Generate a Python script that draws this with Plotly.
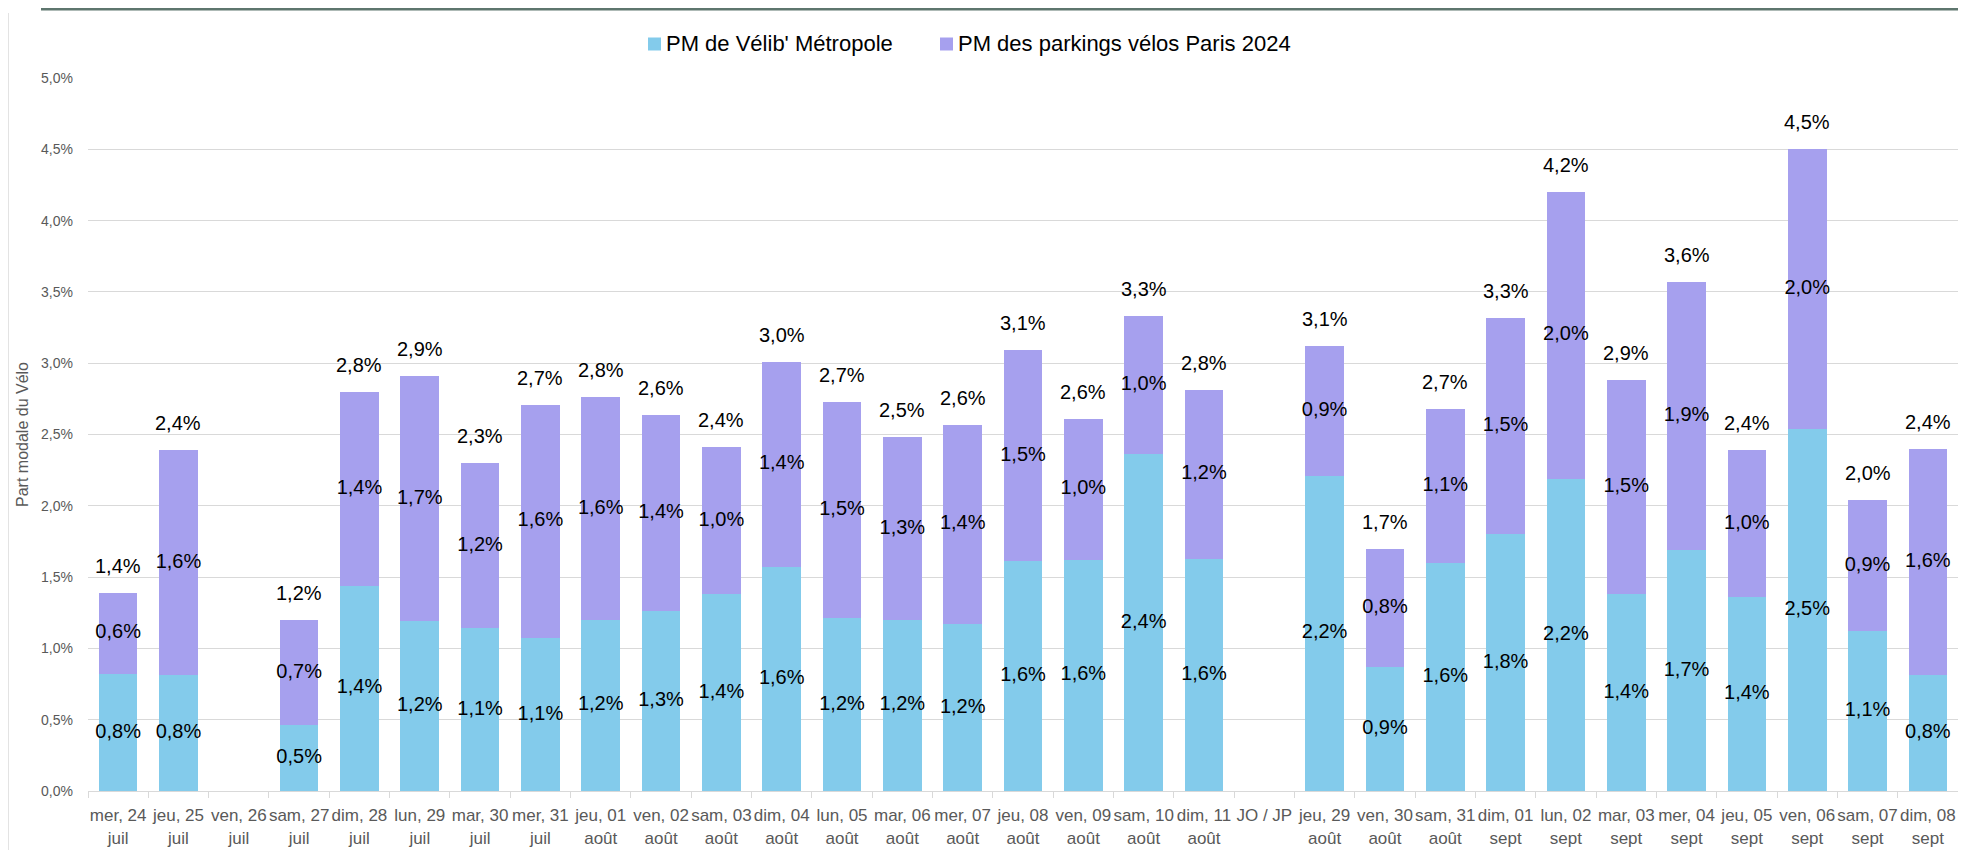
import plotly.graph_objects as go

categories = [
    "mer, 24<br>juil", "jeu, 25<br>juil", "ven, 26<br>juil", "sam, 27<br>juil",
    "dim, 28<br>juil", "lun, 29<br>juil", "mar, 30<br>juil", "mer, 31<br>juil",
    "jeu, 01<br>août", "ven, 02<br>août", "sam, 03<br>août", "dim, 04<br>août",
    "lun, 05<br>août", "mar, 06<br>août", "mer, 07<br>août", "jeu, 08<br>août",
    "ven, 09<br>août", "sam, 10<br>août", "dim, 11<br>août", "JO / JP",
    "jeu, 29<br>août", "ven, 30<br>août", "sam, 31<br>août", "dim, 01<br>sept",
    "lun, 02<br>sept", "mar, 03<br>sept", "mer, 04<br>sept", "jeu, 05<br>sept",
    "ven, 06<br>sept", "sam, 07<br>sept", "dim, 08<br>sept",
]

velib = [0.82, 0.81, None, 0.46, 1.44, 1.19, 1.14, 1.07, 1.20, 1.26, 1.38, 1.57,
         1.21, 1.20, 1.17, 1.61, 1.62, 2.36, 1.63, None, 2.21, 0.87, 1.60, 1.80,
         2.19, 1.38, 1.69, 1.36, 2.54, 1.12, 0.81]

parkings = [0.57, 1.58, None, 0.74, 1.36, 1.72, 1.16, 1.64, 1.56, 1.38, 1.03, 1.44,
            1.52, 1.28, 1.40, 1.48, 0.99, 0.97, 1.18, None, 0.91, 0.83, 1.08, 1.52,
            2.01, 1.50, 1.88, 1.03, 1.96, 0.92, 1.59]

y_ticks = [0, 0.5, 1, 1.5, 2, 2.5, 3, 3.5, 4, 4.5, 5]
y_tick_labels = ["0,0%", "0,5%", "1,0%", "1,5%", "2,0%", "2,5%", "3,0%", "3,5%",
                 "4,0%", "4,5%", "5,0%"]

series_names = ["PM de Vélib' Métropole", "PM des parkings vélos Paris 2024"]


def fmt(v):
    return ("%.1f" % v).replace(".", ",") + "%"


totals = [None if a is None else a + b for a, b in zip(velib, parkings)]

BLUE = "#83CBEB"
PURPLE = "#A6A0EE"
FAM = "Liberation Sans, Arial, sans-serif"
LABEL_FONT = dict(family=FAM, size=20, color="#000000")

# figure is placed at an 8px page offset (default body margin)
W, H = 1950, 842
ML, MR, MT, MB = 80, 0, 70, 59
PW = W - ML - MR
PH = H - MT - MB


def px(x):
    return (x - ML) / PW


def py(y):
    return 1 + (MT - y) / PH


fig = go.Figure()
fig.add_trace(go.Bar(x=categories, y=velib, name=series_names[0], showlegend=False,
                     marker=dict(color=BLUE, line=dict(width=0)), hoverinfo="skip"))
fig.add_trace(go.Bar(x=categories, y=parkings, name=series_names[1], showlegend=False,
                     marker=dict(color=PURPLE, line=dict(width=0)), hoverinfo="skip"))

# segment labels (centred in each segment)
xs, ys, ts = [], [], []
for c, a, b in zip(categories, velib, parkings):
    if a is None:
        continue
    xs += [c, c]
    ys += [a / 2, a + b / 2]
    ts += [fmt(a), fmt(b)]
fig.add_trace(go.Scatter(x=xs, y=ys, text=ts, mode="text", textposition="middle center",
                         textfont=LABEL_FONT, showlegend=False, hoverinfo="skip",
                         cliponaxis=False))

# total labels above bars
for c, t in zip(categories, totals):
    if t is None:
        continue
    fig.add_annotation(x=c, y=t, text=fmt(t), showarrow=False, yanchor="bottom",
                       yshift=14, font=LABEL_FONT)

# legend (drawn manually for Excel-like spacing)
legend_x = [640, 932]
legend_y = 36
for lx, name, col in zip(legend_x, series_names, [BLUE, PURPLE]):
    fig.add_shape(type="rect", xref="paper", yref="paper",
                  x0=px(lx), x1=px(lx + 13), y0=py(legend_y + 6.5), y1=py(legend_y - 6.5),
                  fillcolor=col, line=dict(width=0))
    fig.add_annotation(xref="paper", yref="paper", x=px(lx + 16), y=py(legend_y),
                       xanchor="left", yanchor="middle", showarrow=False, text=name,
                       font=dict(family=FAM, size=22, color="#000000"))

fig.update_layout(
    width=W, height=H,
    margin=dict(l=ML, r=MR, t=MT, b=MB, autoexpand=False),
    barmode="stack", bargap=0.36,
    plot_bgcolor="white", paper_bgcolor="white",
    font=dict(family=FAM, color="#595959"),
    showlegend=False,
)
fig.add_shape(type="line", xref="paper", yref="paper", x0=px(33), x1=1.01,
              y0=py(1), y1=py(1), line=dict(color="#5E766E", width=3))
fig.add_shape(type="line", xref="paper", yref="paper", x0=px(0.5), x1=px(0.5),
              y0=py(H), y1=py(5), line=dict(color="#E3E3E3", width=1))

fig.update_xaxes(type="category", categoryorder="array", categoryarray=categories,
                 range=[-0.5, len(categories) - 0.5], autorange=False,
                 automargin=False, tickangle=0,
                 showline=True, linecolor="#D9D9D9", linewidth=1,
                 ticks="outside", tickson="boundaries", ticklen=6, tickcolor="#D9D9D9",
                 ticklabelstandoff=9,
                 tickfont=dict(family=FAM, size=17, color="#595959"),
                 showgrid=False, fixedrange=True)

fig.update_yaxes(range=[0, 5], tickvals=y_ticks, ticktext=y_tick_labels,
                 automargin=False,
                 showgrid=True, gridcolor="#D9D9D9", gridwidth=1, zeroline=False,
                 showline=False, ticks="", ticklabelstandoff=14,
                 tickfont=dict(family=FAM, size=14, color="#595959"),
                 title=dict(text="Part modale du Vélo", standoff=8,
                            font=dict(family=FAM, size=16, color="#595959")))

fig.write_html("out.html")
